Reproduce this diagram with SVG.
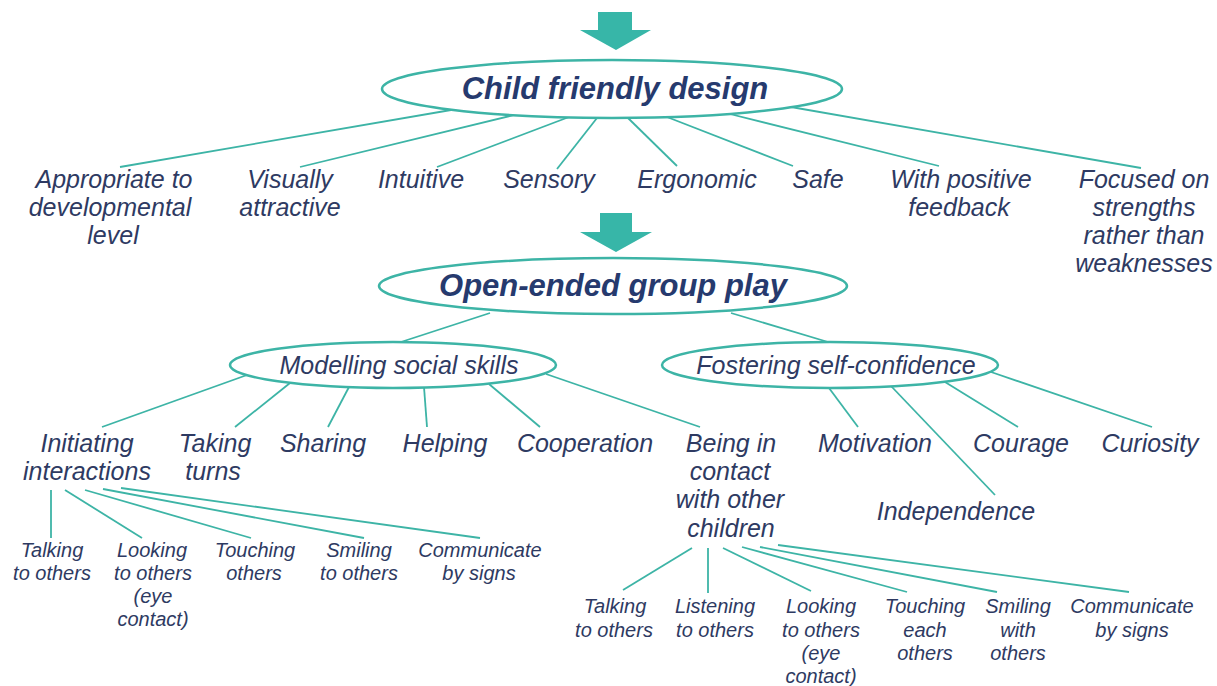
<svg xmlns="http://www.w3.org/2000/svg" width="1217" height="686" viewBox="0 0 1217 686">
<style>
.bg{fill:#ffffff}
.ell{fill:#ffffff;stroke:#3db4a6;stroke-width:2.5}
.ln{stroke:#3db4a6;stroke-width:1.8;fill:none}
.arr{fill:#37b6a8}
text{font-family:"Liberation Sans",Arial,sans-serif;font-style:italic;fill:#2e3a62;text-anchor:middle}
.t1{font-size:31px;font-weight:bold;fill:#263a6e}
.t2{font-size:25px}
.t3{font-size:25px}
.t4{font-size:20px}
</style>
<rect class="bg" x="0" y="0" width="1217" height="686"/>
<g id="arrow1"><polygon class="arr" points="598,12 632,12 632,30 651,30 616,50 580,30 598,30"/></g>
<g id="arrow2"><polygon class="arr" points="600,213 632,213 632,232 652,232 616,252 580,232 600,232"/></g>
<g id="connectors">
<line class="ln" x1="451" y1="110" x2="120" y2="167"/>
<line class="ln" x1="514" y1="115" x2="300" y2="167"/>
<line class="ln" x1="569" y1="117" x2="437" y2="167"/>
<line class="ln" x1="597" y1="118" x2="557" y2="169"/>
<line class="ln" x1="628" y1="118" x2="677" y2="166"/>
<line class="ln" x1="667" y1="117" x2="793" y2="166"/>
<line class="ln" x1="730" y1="114" x2="939" y2="166"/>
<line class="ln" x1="791" y1="107" x2="1141" y2="168"/>
<line class="ln" x1="490" y1="313" x2="401" y2="342"/>
<line class="ln" x1="731" y1="313" x2="828" y2="342"/>
<line class="ln" x1="247" y1="375" x2="102" y2="427"/>
<line class="ln" x1="290" y1="383" x2="235" y2="427"/>
<line class="ln" x1="349" y1="387" x2="328" y2="427"/>
<line class="ln" x1="424" y1="387" x2="427" y2="427"/>
<line class="ln" x1="489" y1="384" x2="540" y2="427"/>
<line class="ln" x1="546" y1="374" x2="700" y2="427"/>
<line class="ln" x1="829" y1="388" x2="858" y2="427"/>
<line class="ln" x1="891" y1="386" x2="995" y2="495"/>
<line class="ln" x1="945" y1="382" x2="1018" y2="427"/>
<line class="ln" x1="991" y1="372" x2="1152" y2="427"/>
<line class="ln" x1="51" y1="490" x2="51" y2="538"/>
<line class="ln" x1="65" y1="490" x2="142" y2="538"/>
<line class="ln" x1="85" y1="490" x2="251" y2="538"/>
<line class="ln" x1="103" y1="489" x2="364" y2="538"/>
<line class="ln" x1="121" y1="488" x2="480" y2="538"/>
<line class="ln" x1="692" y1="548" x2="623" y2="590"/>
<line class="ln" x1="708" y1="548" x2="708" y2="593"/>
<line class="ln" x1="723" y1="548" x2="811" y2="591"/>
<line class="ln" x1="742" y1="547" x2="907" y2="592"/>
<line class="ln" x1="760" y1="547" x2="997" y2="592"/>
<line class="ln" x1="778" y1="545" x2="1129" y2="592"/>
</g>
<g id="child-friendly-design"><ellipse class="ell" cx="612" cy="89" rx="230" ry="29"/><text class="t1" x="615" y="99">Child friendly design</text></g>
<g id="open-ended-group-play"><ellipse class="ell" cx="613" cy="286" rx="234" ry="28"/><text class="t1" x="613" y="296">Open-ended group play</text></g>
<g id="modelling"><ellipse class="ell" cx="393" cy="365" rx="163" ry="23"/><text class="t3" x="399" y="374">Modelling social skills</text></g>
<g id="fostering"><ellipse class="ell" cx="830" cy="365" rx="168" ry="23"/><text class="t3" x="836" y="374">Fostering self-confidence</text></g>
<g id="appropriate"><text class="t2" x="114" y="188">Appropriate to</text><text class="t2" x="110" y="216">developmental</text><text class="t2" x="113" y="244">level</text></g>
<g id="visually"><text class="t2" x="290" y="188">Visually</text><text class="t2" x="290" y="216">attractive</text></g>
<g id="intuitive"><text class="t2" x="421" y="188">Intuitive</text></g>
<g id="sensory"><text class="t2" x="549" y="188">Sensory</text></g>
<g id="ergonomic"><text class="t2" x="697" y="188">Ergonomic</text></g>
<g id="safe"><text class="t2" x="818" y="188">Safe</text></g>
<g id="positive-feedback"><text class="t2" x="961" y="188">With positive</text><text class="t2" x="959" y="216">feedback</text></g>
<g id="focused"><text class="t2" x="1144" y="188">Focused on</text><text class="t2" x="1144" y="216">strengths</text><text class="t2" x="1144" y="244">rather than</text><text class="t2" x="1144" y="272">weaknesses</text></g>
<g id="initiating"><text class="t2" x="87" y="452">Initiating</text><text class="t2" x="87" y="480">interactions</text></g>
<g id="taking-turns"><text class="t2" x="215" y="452">Taking</text><text class="t2" x="213" y="480">turns</text></g>
<g id="sharing"><text class="t2" x="323" y="452">Sharing</text></g>
<g id="helping"><text class="t2" x="445" y="452">Helping</text></g>
<g id="cooperation"><text class="t2" x="585" y="452">Cooperation</text></g>
<g id="being-in-contact"><text class="t2" x="731" y="452">Being in</text><text class="t2" x="730" y="480">contact</text><text class="t2" x="730" y="508">with other</text><text class="t2" x="731" y="537">children</text></g>
<g id="motivation"><text class="t2" x="875" y="452">Motivation</text></g>
<g id="independence"><text class="t2" x="956" y="520">Independence</text></g>
<g id="courage"><text class="t2" x="1021" y="452">Courage</text></g>
<g id="curiosity"><text class="t2" x="1150" y="452">Curiosity</text></g>
<g id="l-talking"><text class="t4" x="52" y="557">Talking</text><text class="t4" x="52" y="580">to others</text></g>
<g id="l-looking"><text class="t4" x="152" y="557">Looking</text><text class="t4" x="153" y="580">to others</text><text class="t4" x="153" y="603">(eye</text><text class="t4" x="153" y="626">contact)</text></g>
<g id="l-touching"><text class="t4" x="255" y="557">Touching</text><text class="t4" x="254" y="580">others</text></g>
<g id="l-smiling"><text class="t4" x="359" y="557">Smiling</text><text class="t4" x="359" y="580">to others</text></g>
<g id="l-communicate"><text class="t4" x="480" y="557">Communicate</text><text class="t4" x="479" y="580">by signs</text></g>
<g id="r-talking"><text class="t4" x="615" y="613">Talking</text><text class="t4" x="614" y="637">to others</text></g>
<g id="r-listening"><text class="t4" x="715" y="613">Listening</text><text class="t4" x="715" y="637">to others</text></g>
<g id="r-looking"><text class="t4" x="821" y="613">Looking</text><text class="t4" x="821" y="637">to others</text><text class="t4" x="821" y="660">(eye</text><text class="t4" x="821" y="683">contact)</text></g>
<g id="r-touching"><text class="t4" x="925" y="613">Touching</text><text class="t4" x="925" y="637">each</text><text class="t4" x="925" y="660">others</text></g>
<g id="r-smiling"><text class="t4" x="1018" y="613">Smiling</text><text class="t4" x="1018" y="637">with</text><text class="t4" x="1018" y="660">others</text></g>
<g id="r-communicate"><text class="t4" x="1132" y="613">Communicate</text><text class="t4" x="1132" y="637">by signs</text></g>
</svg>
